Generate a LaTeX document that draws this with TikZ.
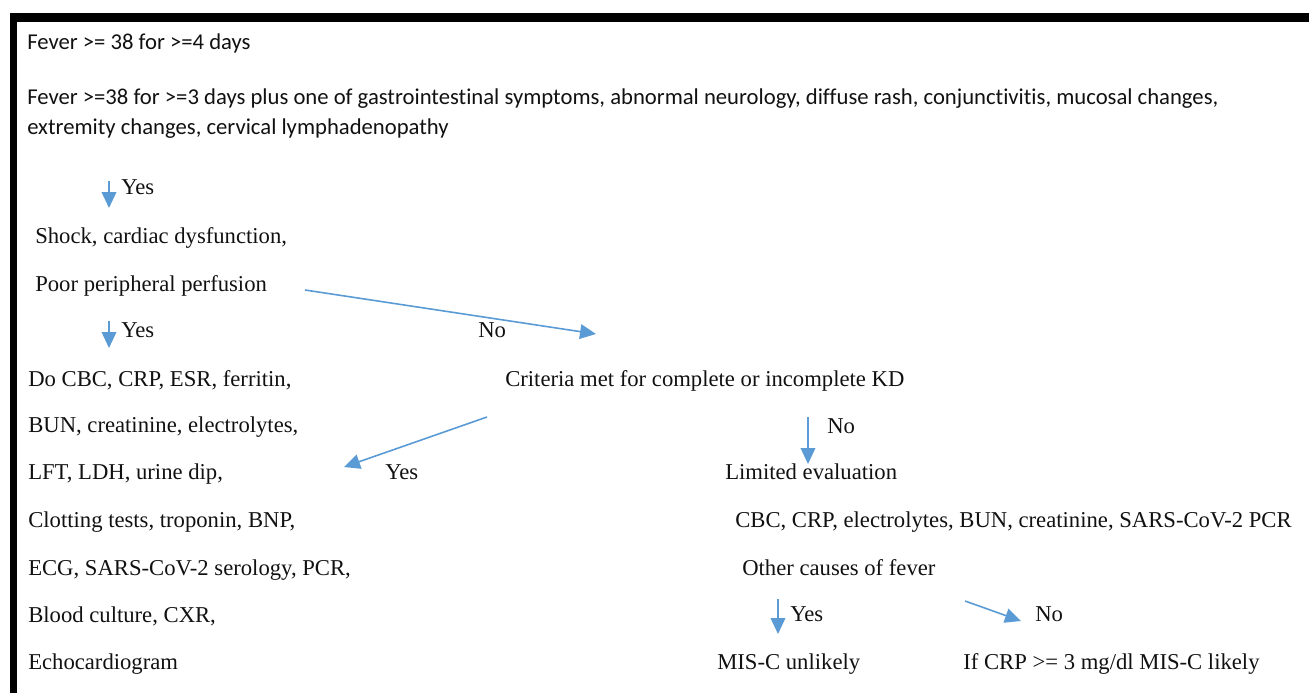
\documentclass[tikz,border=0pt]{standalone}
\usepackage{fontspec}
\setmainfont{Liberation Serif}
\newfontfamily\calfont[Ligatures=NoCommon]{Carlito}
\usetikzlibrary{arrows.meta}
\definecolor{arrowblue}{HTML}{5B9BD5}
\definecolor{ink}{HTML}{111111}
\tikzset{
  txt/.style={anchor=base west, inner sep=0pt, text=ink, font=\fontsize{17}{20}\selectfont},
  stxt/.style={txt, font=\calfont\fontsize{17}{20}\selectfont},
  flow/.style={draw=arrowblue, line width=1.2pt, -{Triangle[length=12pt,width=11pt]}, arrowblue}
}
\begin{document}
\begin{tikzpicture}[x=0.75pt,y=-0.75pt]
\useasboundingbox (0,0) rectangle (1309,693);
% frame
\fill[black] (10,13) rectangle (1309,22);
\fill[black] (10,13) rectangle (17,693);
% header text
\node[stxt] (t1) at (27,49) {Fever >= 38 for >=4 days};
\node[stxt] (t2) at (27,104) {Fever >=38 for >=3 days plus one of gastrointestinal symptoms, abnormal neurology, diffuse rash, conjunctivitis, mucosal changes,};
\node[stxt] (t3) at (27,134) {extremity changes, cervical lymphadenopathy};
% left column
\node[txt] (yes1) at (121,194) {Yes};
\node[txt] (shock) at (35,243) {Shock, cardiac dysfunction,};
\node[txt] (poor) at (35,291) {Poor peripheral perfusion};
\node[txt] (yes2) at (121,337) {Yes};
\node[txt] (no1) at (478,337) {No};
\node[txt] (docbc) at (28,386) {Do CBC, CRP, ESR, ferritin,};
\node[txt] (crit) at (505,386) {Criteria met for complete or incomplete KD};
\node[txt] (bun) at (28,432) {BUN, creatinine, electrolytes,};
\node[txt] (no2) at (827,433) {No};
\node[txt] (lft) at (28,479) {LFT, LDH, urine dip,};
\node[txt] (yes3) at (385,479) {Yes};
\node[txt] (limited) at (725,479) {Limited evaluation};
\node[txt] (clot) at (28,527) {Clotting tests, troponin, BNP,};
\node[txt] (cbc2) at (735,527) {CBC, CRP, electrolytes, BUN, creatinine, SARS-CoV-2 PCR};
\node[txt] (ecg) at (28,575) {ECG, SARS-CoV-2 serology, PCR,};
\node[txt] (other) at (742,575) {Other causes of fever};
\node[txt] (blood) at (28,622) {Blood culture, CXR,};
\node[txt] (yes4) at (790,621) {Yes};
\node[txt] (no3) at (1035,621) {No};
\node[txt] (echo) at (28,669) {Echocardiogram};
\node[txt] (misc) at (717,669) {MIS-C unlikely};
\node[txt] (ifcrp) at (963,669) {If CRP >= 3 mg/dl MIS-C likely};
% arrow end points
\coordinate (a1s) at (109,181); \coordinate (a1e) at (109,208);
\coordinate (a2s) at (109,321); \coordinate (a2e) at (109,348);
\coordinate (a3s) at (305,290); \coordinate (a3e) at (596,334);
\coordinate (a4s) at (487,417); \coordinate (a4e) at (344,467);
\coordinate (a5s) at (808,417); \coordinate (a5e) at (808,464);
\coordinate (a6s) at (778,599); \coordinate (a6e) at (778,634);
\coordinate (a7s) at (965,601); \coordinate (a7e) at (1021,621);
\draw[flow] (a1s) -- (a1e);
\draw[flow] (a2s) -- (a2e);
\draw[flow] (a3s) -- (a3e);
\draw[flow] (a4s) -- (a4e);
\draw[flow] (a5s) -- (a5e);
\draw[flow] (a6s) -- (a6e);
\draw[flow] (a7s) -- (a7e);
\end{tikzpicture}
\end{document}
